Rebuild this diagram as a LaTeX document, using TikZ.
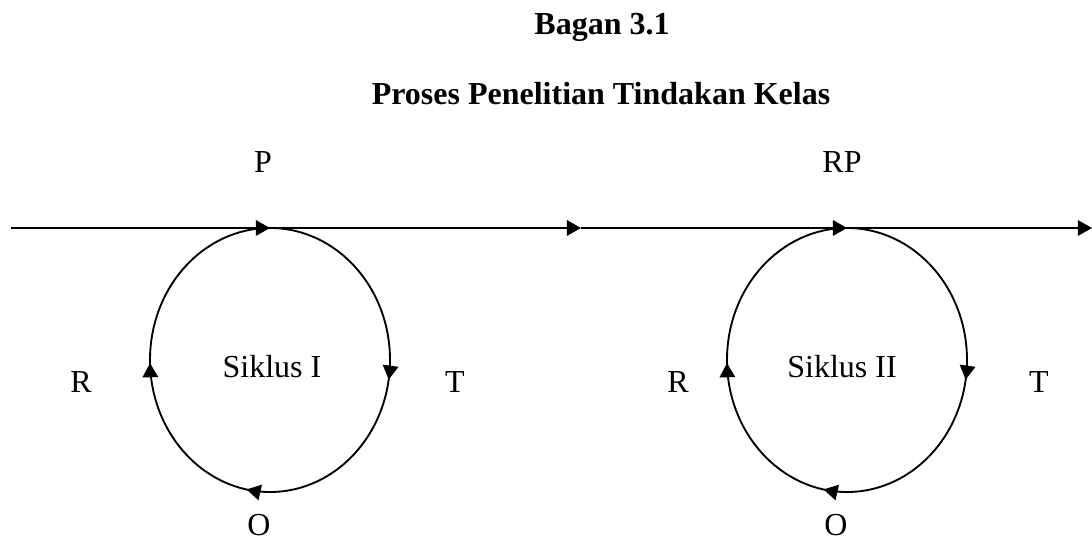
\documentclass[tikz,border=0pt]{standalone}
\usepackage{fontspec}
\setmainfont{Liberation Serif}
\usetikzlibrary{arrows.meta,decorations.markings}
\tikzset{
  flw/.style={-{Triangle[length=5.3pt, width=5.8pt]}, line width=0.65pt},
  cyc/.style={line width=0.7pt, postaction={decorate, decoration={markings,
      mark=at position 0.504 with {\arrowreversed{Triangle[length=5.3pt, width=5.8pt]}},
      mark=at position 0.72 with {\arrowreversed{Triangle[length=5.3pt, width=5.8pt]}},
      mark=at position 0.975 with {\arrowreversed{Triangle[length=5.3pt, width=5.8pt]}}}}},
  lbl/.style={font=\fontsize{12}{14}\selectfont, inner sep=0pt, anchor=base},
  ttl/.style={font=\fontsize{12}{14}\selectfont\bfseries, inner sep=0pt, anchor=base},
}

\begin{document}
\begin{tikzpicture}[x=0.375pt, y=0.375pt]
\useasboundingbox (0,0) rectangle (1092,542);
%---- title
\node[ttl] (bagan) at (602,507) {Bagan 3.1};
\node[ttl] (judul) at (601,437) {Proses Penelitian Tindakan Kelas};
%---- main line
\coordinate (mulai) at (11,314);
\coordinate (top1) at (270,314);
\coordinate (antara) at (581,314);
\coordinate (top2) at (847,314);
\coordinate (akhir) at (1092,314);
\draw[flw] (mulai) -- (top1);
\draw[flw] (top1) -- (antara);
\draw[flw] (antara) -- (top2);
\draw[flw] (top2) -- (akhir);
%---- cycle I
\coordinate (pusat1) at (270,182);
\draw[cyc] (pusat1) ellipse [x radius=120, y radius=132];
\node[lbl] (p1) at (263,369) {P};
\node[lbl] (t1) at (455,149) {T};
\node[lbl] (o1) at (259,6) {O};
\node[lbl] (r1) at (81,149) {R};
\node[lbl] (sik1) at (272,164) {Siklus I};
%---- cycle II
\coordinate (pusat2) at (847,182);
\draw[cyc] (pusat2) ellipse [x radius=120, y radius=132];
\node[lbl] (p2) at (842,369) {RP};
\node[lbl] (t2) at (1039,149) {T};
\node[lbl] (o2) at (836,6) {O};
\node[lbl] (r2) at (678,149) {R};
\node[lbl] (sik2) at (842,164) {Siklus II};
\end{tikzpicture}
\end{document}
